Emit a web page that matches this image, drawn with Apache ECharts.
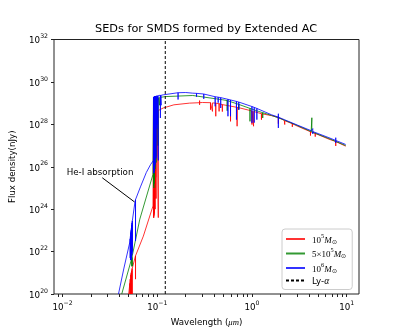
<!DOCTYPE html>
<html><head><meta charset="utf-8">
<script src="https://cdn.jsdelivr.net/npm/echarts@6/dist/echarts.min.js"></script>
<style>html,body{margin:0;padding:0;background:#fff}#c{width:399px;height:332px}</style>
</head><body><div id="c"></div>
<script>
// ---------------- data (wavelength in μm, flux as log10 of nJy) ----------------
const titleText = 'SEDs for SMDS formed by Extended AC';
const xTickValues = [0.01, 0.1, 1, 10];
const xMinorTickValues = [0.009, 0.02, 0.03, 0.04, 0.05, 0.06, 0.07, 0.08, 0.09,
  0.2, 0.3, 0.4, 0.5, 0.6, 0.7, 0.8, 0.9, 2, 3, 4, 5, 6, 7, 8, 9];
const yTickValues = [1e20, 1e22, 1e24, 1e26, 1e28, 1e30, 1e32];
const seriesNames = ['10⁵M⊙', '5×10⁵M⊙', '10⁶M⊙', 'Ly-α'];
const lyAlphaWave = 0.1216;

// 10^5 Msun (red)
const redWave = [0.0500, 0.0523, 0.0558, 0.0714, 0.0902, 0.0912, 0.0913, 0.1000, 0.1155, 0.150, 0.219, 0.300, 0.487, 0.750, 1.175, 1.61, 2.20, 3.00, 4.22, 6.5, 9.77];
const redLogF = [20.0, 20.57, 21.18, 22.73, 24.15, 24.2, 28.45, 28.62, 28.77, 28.92, 29.0, 29.03, 28.93, 28.77, 28.54, 28.41, 28.18, 27.92, 27.64, 27.30, 26.97];
// absorption features: [wavelength, continuum, extreme]
const redLines = [
  [0.0514, 20.5, 20.0], [0.0520, 20.7, 20.0], [0.0526, 20.9, 20.0], [0.0532, 21.0, 20.0], [0.0538, 21.1, 20.0], [0.0544, 21.2, 20.0],
  [0.0590, 21.8, 20.7],
  [0.0915, 28.46, 23.6], [0.0920, 28.47, 23.6], [0.0926, 28.48, 23.7], [0.0932, 28.5, 23.8], [0.0938, 28.52, 24.0], [0.0945, 28.54, 24.5],
  [0.0950, 28.55, 24.0], [0.0958, 28.57, 25.0], [0.0965, 28.58, 25.5], [0.0973, 28.6, 24.5], [0.0985, 28.61, 26.5], [0.1000, 28.62, 27.0], [0.1026, 28.65, 23.6],
  [0.280, 29.02, 29.12], [0.280, 29.02, 28.92],
  [0.365, 29.02, 28.69], [0.383, 29.01, 28.61], [0.415, 29.0, 28.38], [0.450, 28.97, 28.61], [0.487, 28.93, 28.60],
  [0.594, 28.86, 28.14], [0.697, 28.80, 27.91], [1.000, 28.63, 27.99], [1.040, 28.61, 27.91], [1.260, 28.50, 28.22],
  [1.900, 28.33, 28.03], [2.220, 28.17, 27.99], [2.670, 28.03, 27.88], [4.150, 27.65, 27.47], [4.660, 27.57, 27.42], [7.670, 27.19, 26.98]
];

// 5x10^5 Msun (green)
const greenWave = [0.0422, 0.0536, 0.0655, 0.0902, 0.0912, 0.0913, 0.1000, 0.124, 0.237, 0.487, 0.750, 1.175, 1.61, 2.20, 3.00, 4.22, 6.5, 9.77];
const greenLogF = [20.0, 21.65, 23.53, 25.64, 25.72, 29.14, 29.25, 29.31, 29.36, 29.16, 28.92, 28.61, 28.42, 28.20, 27.95, 27.66, 27.33, 27.0];
const greenLines = [
  [0.0540, 21.72, 21.3], [0.0545, 21.8, 21.32],
  [0.0915, 29.14, 25.1], [0.0920, 29.15, 25.0], [0.0926, 29.16, 25.2], [0.0932, 29.17, 25.4], [0.0938, 29.18, 25.8], [0.0945, 29.19, 26.5],
  [0.0950, 29.2, 25.9], [0.0958, 29.21, 26.8], [0.0973, 29.22, 26.2], [0.1000, 29.25, 28.8], [0.1026, 29.26, 27.0], [0.1060, 29.27, 28.9],
  [0.548, 29.12, 28.64], [0.726, 28.94, 28.69], [0.954, 28.75, 28.14], [1.30, 28.55, 28.3], [4.29, 27.64, 28.31]
];

// 10^6 Msun (blue)
const blueWave = [0.0390, 0.0443, 0.0514, 0.0581, 0.0665, 0.0767, 0.0850, 0.0912, 0.0913, 0.1155, 0.166, 0.200, 0.237, 0.487, 0.750, 1.175, 1.61, 2.20, 3.00, 4.22, 6.5, 9.77];
const blueLogF = [20.0, 21.18, 22.45, 24.32, 25.05, 25.73, 26.1, 26.3, 29.28, 29.39, 29.49, 29.5, 29.47, 29.24, 29.02, 28.72, 28.45, 28.22, 27.97, 27.70, 27.37, 27.05];
const blueLines = [
  [0.0518, 22.6, 21.7], [0.0522, 22.75, 21.6], [0.0526, 22.9, 21.6], [0.0530, 23.0, 21.6], [0.0534, 23.1, 21.7], [0.0538, 23.25, 21.8], [0.0542, 23.35, 21.9], [0.0546, 23.45, 22.0],
  [0.0590, 24.45, 22.5],
  [0.0915, 29.28, 25.7], [0.0919, 29.29, 25.8], [0.0923, 29.29, 25.7], [0.0927, 29.3, 26.0], [0.0931, 29.3, 25.8], [0.0936, 29.31, 26.2], [0.0941, 29.31, 26.0],
  [0.0946, 29.32, 26.5], [0.0950, 29.32, 26.1], [0.0958, 29.33, 26.8], [0.0965, 29.33, 27.2], [0.0973, 29.34, 26.4], [0.0990, 29.35, 27.8], [0.1005, 29.35, 28.0],
  [0.1026, 29.36, 26.3], [0.1080, 29.37, 28.3], [0.1100, 29.37, 28.9],
  [0.166, 29.49, 29.17], [0.260, 29.46, 29.3], [0.310, 29.43, 29.2],
  [0.409, 29.30, 28.85], [0.440, 29.28, 29.02], [0.468, 29.26, 28.77], [0.558, 29.18, 28.38], [0.594, 29.15, 28.38], [0.686, 29.08, 28.22], [0.726, 29.05, 28.69],
  [1.000, 28.84, 28.07], [1.057, 28.80, 28.08], [1.127, 28.75, 28.22],
  [1.900, 28.34, 28.5], [1.900, 28.34, 27.83], [4.39, 27.66, 27.8], [4.39, 27.66, 27.55], [7.67, 27.24, 27.37], [7.67, 27.24, 27.12]
];

// annotation (data coordinates: wavelength, log10 flux)
const heLabelText = 'He-I absorption';
const heLabelPos = [0.0249, 25.73];
const heArrowFrom = [0.0263, 25.48];
const heArrowTo = [0.0576, 24.34];

// ---------------- build ----------------
const P = v => Math.pow(10, v);
function buildData(wave, logF, lines) {
  const groups = wave.map((w, i) => ({ x: w, pts: [[w, P(logF[i])]] }));
  lines.forEach(l => groups.push({ x: l[0], pts: [[l[0], P(l[1])], [l[0], P(l[2])], [l[0], P(l[1])]] }));
  groups.sort((a, b) => a.x - b.x);
  const out = [];
  groups.forEach(g => g.pts.forEach(p => out.push(p)));
  return out;
}

const SANS = 'DejaVu Sans';
const SERIF = 'Liberation Serif';
const xMin = 0.00813, xMax = 13.5;

function powLabel(v) {
  const e = Math.round(Math.log10(v));
  return '{b|10}{s|' + String(e).replace('-', '\u2212') + '}';
}
const tickRich = {
  b: { fontFamily: SANS, fontSize: 8.7, color: '#000', lineHeight: 12, verticalAlign: 'bottom' },
  s: { fontFamily: SANS, fontSize: 6.2, color: '#000', lineHeight: 7, verticalAlign: 'top' }
};
const legendFmt = {
  '10⁵M⊙': '{r|10}{s|5}{i|M}{u|⊙}',
  '5×10⁵M⊙': '{r|5×10}{s|5}{i|M}{u|⊙}',
  '10⁶M⊙': '{r|10}{s|6}{i|M}{u|⊙}',
  'Ly-α': '{t|Ly-}{g|α}'
};

const lineCommon = { type: 'line', symbol: 'none', showSymbol: false, animation: false, clip: true, z: 2 };
const colors = ['#ff0000', '#008000', '#0000ff'];

const chart = echarts.init(document.getElementById('c'), null, { renderer: 'canvas' });
chart.setOption({
  animation: false,
  backgroundColor: '#fff',
  title: {
    text: titleText, left: 95, top: 23, padding: 0,
    textStyle: { fontFamily: SANS, fontSize: 11.3, fontWeight: 'normal', color: '#000', lineHeight: 13 }
  },
  grid: { left: 50, right: 40, top: 39.5, bottom: 37, show: true, borderColor: '#222', borderWidth: 1, backgroundColor: 'transparent' },
  legend: {
    orient: 'vertical', left: 282, top: 229, padding: [4, 6, 3, 3], itemGap: 2.5,
    itemWidth: 19, itemHeight: 1,
    backgroundColor: 'rgba(255,255,255,0.8)', borderColor: '#ccc', borderWidth: 1, borderRadius: 3,
    itemStyle: { opacity: 0 },
    data: seriesNames,
    formatter: n => legendFmt[n],
    textStyle: {
      color: '#000', padding: [0, 0, 0, 2],
      rich: {
        r: { fontFamily: SERIF, fontSize: 9, lineHeight: 12, verticalAlign: 'bottom' },
        s: { fontFamily: SERIF, fontSize: 6.3, lineHeight: 7, verticalAlign: 'top' },
        i: { fontFamily: SERIF, fontStyle: 'italic', fontSize: 9, lineHeight: 12, verticalAlign: 'bottom' },
        u: { fontFamily: SERIF, fontSize: 6.3, lineHeight: 6, verticalAlign: 'bottom' },
        t: { fontFamily: SANS, fontSize: 8.7, lineHeight: 12, verticalAlign: 'bottom' },
        g: { fontFamily: SERIF, fontStyle: 'italic', fontSize: 9.5, lineHeight: 12, verticalAlign: 'bottom' }
      }
    }
  },
  xAxis: {
    type: 'log', logBase: 10, min: xMin, max: xMax, position: 'bottom',
    name: 'Wavelength ({i|μm})', nameLocation: 'middle', nameGap: 24,
    nameTextStyle: { fontFamily: SANS, fontSize: 8.7, color: '#000',
      rich: { i: { fontFamily: SERIF, fontStyle: 'italic', fontSize: 8.7, color: '#000' } } },
    axisLine: { show: false },
    axisTick: { show: true, length: 3, inside: false, customValues: xTickValues.concat(xMinorTickValues).sort((a, b) => a - b), lineStyle: { color: '#222' } },
    axisLabel: { show: true, margin: 6, customValues: xTickValues, formatter: powLabel, rich: tickRich, showMinLabel: true, showMaxLabel: true },
    splitLine: { show: false }, minorTick: { show: false }
  },
  yAxis: {
    type: 'log', logBase: 10, min: 1e20, max: 1e32,
    name: 'Flux density(nJy)', nameLocation: 'middle', nameGap: 37, nameRotate: 90,
    nameTextStyle: { fontFamily: SANS, fontSize: 8.7, color: '#000' },
    axisLine: { show: false },
    axisTick: { show: true, length: 3, customValues: yTickValues, lineStyle: { color: '#222' } },
    axisLabel: { show: true, margin: 6, customValues: yTickValues, formatter: powLabel, rich: tickRich, showMinLabel: true, showMaxLabel: true },
    splitLine: { show: false }
  },
  series: [
    Object.assign({}, lineCommon, { name: seriesNames[0], data: buildData(redWave, redLogF, redLines), color: colors[0], lineStyle: { color: colors[0], width: 1, opacity: 0.8 } }),
    Object.assign({}, lineCommon, { name: seriesNames[1], data: buildData(greenWave, greenLogF, greenLines), color: colors[1], lineStyle: { color: colors[1], width: 1, opacity: 0.8 } }),
    Object.assign({}, lineCommon, { name: seriesNames[2], data: buildData(blueWave, blueLogF, blueLines), color: colors[2], lineStyle: { color: colors[2], width: 1, opacity: 0.8 } }),
    Object.assign({}, lineCommon, {
      name: seriesNames[3], data: [[lyAlphaWave, 1e20], [lyAlphaWave, 1e32]], color: '#000',
      lineStyle: { color: '#000', width: 1, type: [3, 2] }, z: 3,
      markLine: {
        silent: true, animation: false, symbol: ['none', 'arrow'], symbolSize: [0, 7],
        lineStyle: { color: '#000', width: 1, type: 'solid' }, label: { show: false },
        data: [[{ coord: [heArrowFrom[0], P(heArrowFrom[1])] }, { coord: [heArrowTo[0], P(heArrowTo[1])] }]]
      },
      markPoint: {
        silent: true, animation: false,
        data: [{ coord: [heLabelPos[0], P(heLabelPos[1])], symbol: 'circle', symbolSize: 1, itemStyle: { color: 'rgba(0,0,0,0)' },
          label: { show: true, position: 'inside', formatter: heLabelText, fontFamily: SANS, fontSize: 8.7, color: '#000' } }]
      }
    })
  ]
});
</script>
</body></html>
